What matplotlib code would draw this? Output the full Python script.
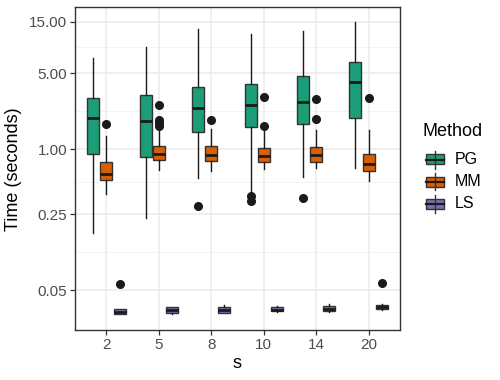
import matplotlib
matplotlib.use("Agg")
import matplotlib.pyplot as plt
import numpy as np
from matplotlib.patches import Rectangle
from matplotlib.lines import Line2D

plt.rcParams['font.family'] = ['Liberation Sans', 'DejaVu Sans']

s_labels = ["2", "5", "8", "10", "14", "20"]
methods = ["PG", "MM", "LS"]
colors = ["#1B9E77", "#D95F02", "#7570B3"]

# box statistics per method: whisker low, Q1, median, Q3, whisker high, outliers
pg_low = [0.167, 0.229, 0.537, 0.39, 0.555, 0.664]
pg_q1 = [0.905, 0.838, 1.435, 1.585, 1.70, 1.92]
pg_med = [1.94, 1.80, 2.39, 2.56, 2.71, 4.18]
pg_q3 = [2.97, 3.13, 3.76, 4.0, 4.69, 6.39]
pg_high = [6.87, 8.67, 12.7, 11.5, 12.3, 14.75]
pg_fliers = [[], [], [0.30], [0.368, 0.331], [0.355], []]

mm_low = [0.385, 0.64, 0.63, 0.65, 0.672, 0.51]
mm_q1 = [0.514, 0.80, 0.78, 0.759, 0.764, 0.63]
mm_med = [0.588, 0.90, 0.88, 0.868, 0.88, 0.732]
mm_q3 = [0.759, 1.066, 1.066, 1.015, 1.036, 0.905]
mm_high = [1.32, 1.6, 1.54, 1.475, 1.5, 1.5]
mm_fliers = [[1.70], [2.55, 1.85, 1.73, 1.64], [1.85], [3.02, 1.64], [2.91, 1.89], [2.94]]

ls_low = [0.0298, 0.0302, 0.0305, 0.0312, 0.0313, 0.0328]
ls_q1 = [0.0300, 0.0305, 0.0310, 0.0318, 0.0318, 0.0332]
ls_med = [0.0316, 0.0327, 0.0330, 0.0330, 0.0337, 0.0346]
ls_q3 = [0.0332, 0.0346, 0.0346, 0.0346, 0.0356, 0.0366]
ls_high = [0.0336, 0.0352, 0.0360, 0.0356, 0.0368, 0.0375]
ls_fliers = [[0.0572], [], [], [], [], [0.058]]

y_breaks = [0.05, 0.25, 1.00, 5.00, 15.00]
y_labels = ["0.05", "0.25", "1.00", "5.00", "15.00"]

W, H = 500, 380
fig = plt.figure(figsize=(W / 100, H / 100), dpi=100)
ax = fig.add_axes([75 / W, 1 - 330 / H, (400 - 75) / W, (330 - 7) / H])

method_data = [
    (pg_low, pg_q1, pg_med, pg_q3, pg_high, pg_fliers),
    (mm_low, mm_q1, mm_med, mm_q3, mm_high, mm_fliers),
    (ls_low, ls_q1, ls_med, ls_q3, ls_high, ls_fliers),
]
offsets = [-0.25, 0.0, 0.25]
for m, (lo, q1, med, q3, hi, fl) in enumerate(method_data):
    stats = []
    for i in range(len(s_labels)):
        stats.append(dict(whislo=lo[i], q1=q1[i], med=med[i], q3=q3[i], whishi=hi[i], fliers=fl[i]))
    pos = [i + 1 + offsets[m] for i in range(len(s_labels))]
    ax.bxp(stats, positions=pos, widths=0.23, patch_artist=True, showcaps=False,
           boxprops=dict(facecolor=colors[m], edgecolor="#333333", linewidth=1.0),
           medianprops=dict(color="#1a1a1a", linewidth=2.0),
           whiskerprops=dict(color="#1a1a1a", linewidth=1.0),
           flierprops=dict(marker="o", markerfacecolor="#1a1a1a", markeredgecolor="#1a1a1a", markersize=5.5),
           manage_ticks=False, zorder=3)

ax.set_yscale("log")
ymin = 10 ** ((149 - 330) / 108.4)
ymax = 10 ** ((149 - 7) / 108.4)
ax.set_ylim(ymin, ymax)
ax.set_xlim(0.4, 6.6)
ax.set_xticks(range(1, len(s_labels) + 1))
ax.set_xticklabels(s_labels)
ax.set_yticks(y_breaks)
ax.set_yticklabels(y_labels)
ax.minorticks_off()
lb = np.log10(y_breaks)
minor = 10 ** ((lb[:-1] + lb[1:]) / 2)
for v in minor:
    ax.axhline(v, color="#f2f2f2", linewidth=0.6, zorder=0)
for v in y_breaks:
    ax.axhline(v, color="#ebebeb", linewidth=1.1, zorder=0)
for v in range(1, len(s_labels) + 1):
    ax.axvline(v, color="#ebebeb", linewidth=1.1, zorder=0)

for sp in ax.spines.values():
    sp.set_color("#333333")
    sp.set_linewidth(1.0)
ax.tick_params(axis="both", colors="#333333", labelcolor="#4d4d4d", labelsize=11, length=3.5, width=0.9, pad=2.0)


def px(x, y):
    return x / W, 1 - y / H


fig.text(*px(237, 364), "s", fontsize=13, ha="center", va="center")
fig.text(*px(14, 169), "Time (seconds)", fontsize=13, ha="center", va="center", rotation=90)

# legend drawn manually (ggplot style keys)
fig.text(*px(423, 131), "Method", fontsize=13, va="center", ha="left")
key_rows = [159.5, 181.5, 203.5]
for m, yc in enumerate(key_rows):
    x0, x1 = 425.5, 443.5
    hh = 10
    lx = px(434.5, yc - 9)
    lx2 = px(434.5, yc + 9)
    fig.add_artist(Line2D([lx[0], lx2[0]], [lx[1], lx2[1]], transform=fig.transFigure, color="#333333", linewidth=1.0))
    bl = px(x0, yc + hh / 2)
    fig.add_artist(Rectangle(bl, (x1 - x0) / W, hh / H, transform=fig.transFigure,
                             facecolor=colors[m], edgecolor="#333333", linewidth=1.0))
    a = px(x0, yc)
    b = px(x1, yc)
    fig.add_artist(Line2D([a[0], b[0]], [a[1], b[1]], transform=fig.transFigure, color="#1a1a1a", linewidth=1.6))
    fig.text(*px(455, yc + 0.5), methods[m], fontsize=11.5, va="center", ha="left")

fig.savefig("out.png", dpi=100, facecolor="white")
